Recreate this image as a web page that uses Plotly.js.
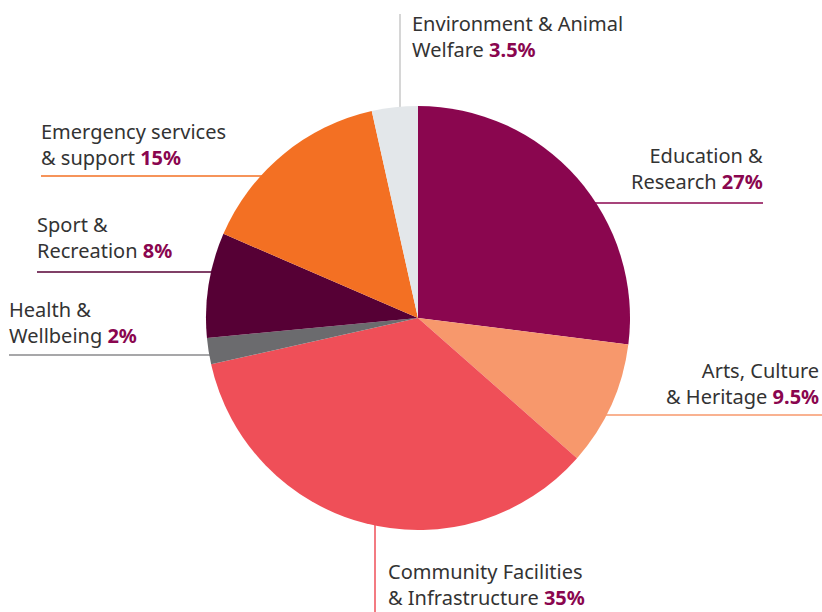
<!DOCTYPE html>
<html>
<head>
<meta charset="utf-8">
<script src="https://cdn.plot.ly/plotly-3.0.1.min.js"></script>
<style>html,body{margin:0;padding:0;background:#fff;}#chart{width:822px;height:612px;}</style>
</head>
<body>
<div id="chart"></div>
<script>
const categories = ["Education & Research", "Arts, Culture & Heritage", "Community Facilities & Infrastructure", "Health & Wellbeing", "Sport & Recreation", "Emergency services & support", "Environment & Animal Welfare"];
const values = [27, 9.5, 35, 2, 8, 15, 3.5];
const valueLabels = ["27%", "9.5%", "35%", "2%", "8%", "15%", "3.5%"];
const labelLines = [["Education &", "Research"], ["Arts, Culture", "& Heritage"], ["Community Facilities", "& Infrastructure"], ["Health &", "Wellbeing"], ["Sport &", "Recreation"], ["Emergency services", "& support"], ["Environment & Animal", "Welfare"]];
const colors = ["#8A064F", "#F7986C", "#EF4F58", "#6B6B6E", "#560035", "#F37023", "#E3E7EA"];
const lineColors = ["#8A064F", "#F7986C", "#EF4F58", "#8A8A8C", "#560035", "#F37023", "#C8C8C8"];

const W = 822, H = 612;
const px = x => x / W;
const py = y => 1 - y / H;

// label placement (pixels): [x, yCenter, anchor]
const labelPos = [[765, 168, 'right'], [821, 383, 'right'], [386, 584, 'left'], [7, 322, 'left'], [35, 238, 'left'], [39, 144, 'left'], [410, 36, 'left']];
// leader lines (pixels): [x0,y0,x1,y1]
const leaders = [[585, 203, 763, 203], [595, 415, 822, 415], [375, 515, 375, 612], [9, 355, 220, 355], [37, 272, 222, 272], [41, 176, 270, 176], [400, 14, 400, 118]];

const cx = 418, cy = 318, R = 212;
const trace = {
  type: 'pie',
  labels: categories,
  values: values,
  marker: {colors: colors, line: {width: 0}},
  sort: false,
  direction: 'clockwise',
  rotation: 0,
  textinfo: 'none',
  hoverinfo: 'label+percent',
  showlegend: false,
  domain: {x: [px(cx - R), px(cx + R)], y: [py(cy + R), py(cy - R)]}
};

const annotations = categories.map((c, i) => ({
  xref: 'paper', yref: 'paper',
  x: px(labelPos[i][0]), y: py(labelPos[i][1]),
  xanchor: labelPos[i][2], yanchor: 'middle',
  align: labelPos[i][2],
  showarrow: false,
  text: labelLines[i][0] + '<br>' + labelLines[i][1] + ' <b><span style="color:#8A064F">' + valueLabels[i] + '</span></b>',
  font: {family: '"Noto Sans", sans-serif', size: 20, color: '#333333'}
}));

const shapes = leaders.map((l, i) => ({
  type: 'line', xref: 'paper', yref: 'paper', layer: 'below',
  x0: px(l[0]), y0: py(l[1]), x1: px(l[2]), y1: py(l[3]),
  line: {color: lineColors[i], width: 1.5}
}));

const layout = {
  width: W, height: H,
  margin: {l: 0, r: 0, t: 0, b: 0},
  paper_bgcolor: '#ffffff',
  plot_bgcolor: '#ffffff',
  annotations: annotations,
  shapes: shapes,
  showlegend: false
};

Plotly.newPlot('chart', [trace], layout, {displayModeBar: false, staticPlot: true});
</script>
</body>
</html>
